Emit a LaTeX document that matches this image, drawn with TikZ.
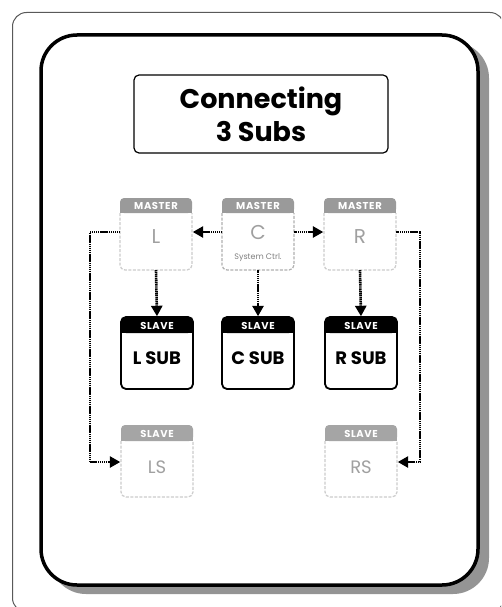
\documentclass[tikz,border=0pt]{standalone}
\usepackage{fontspec}
\setmainfont{Poppins}
\usetikzlibrary{arrows.meta}
\definecolor{hdrgray}{HTML}{9A9A9A}
\definecolor{slvgray}{HTML}{A5A5A5}
\definecolor{lightdash}{HTML}{CCCCCC}
\definecolor{middash}{HTML}{B0B0B0}
\definecolor{labgray}{HTML}{A0A0A0}
\tikzset{
  x=1pt, y=-1pt,
  conn/.style={line width=2.6pt, dash pattern=on 1.3pt off 0.6pt, black,
     -{Triangle[length=10.5pt,width=11pt]}, shorten >=0.5pt},
  boxarea/.style={draw=none, minimum width=72pt, minimum height=72pt, inner sep=0pt},
  hdrtext/.style={text=white, font=\bfseries\fontsize{10}{10}\selectfont\addfontfeature{LetterSpace=6}},
  mlabel/.style={text=labgray, font=\fontsize{20}{20}\selectfont},
  slabel/.style={text=black, font=\bfseries\fontsize{18}{18}\selectfont},
}
\begin{document}
\begin{tikzpicture}
\useasboundingbox (0,0) rectangle (501,607);
\begin{scope}
\clip (0,0) rectangle (501,607);
% outer frame
\draw[line width=1pt, draw=black!65, rounded corners=14pt] (12.5,12.5) rectangle (504,612);
\end{scope}
% inner frame with shadow
\fill[black!42, rounded corners=36pt] (50,42) rectangle (489,594);
\draw[line width=3.5pt, fill=white, rounded corners=36pt] (41,35) rectangle (478,585);
% title
\node[draw, line width=1.2pt, rounded corners=5pt, minimum width=254pt, minimum height=78pt,
      align=center, font=\bfseries\fontsize{27}{33}\selectfont, inner sep=0pt]
      (title) at (261,114) {Connecting\\3 Subs};

% ---------- master boxes ----------
\foreach \n/\cx/\bc in {L/156/lightdash, C/258/middash, R/360/lightdash}{
  \fill[hdrgray, rounded corners=4pt] (\cx-36,198) rectangle (\cx+36,213);
  \fill[hdrgray] (\cx-36,206) rectangle (\cx+36,213);
  \draw[\bc, line width=1.2pt, dash pattern=on 3pt off 1.5pt, rounded corners=5pt]
     (\cx-36,213) -- (\cx-36,270) -- (\cx+36,270) -- (\cx+36,213);
  \node[hdrtext] at (\cx,206) {MASTER};
}
\node[boxarea] (L) at (156,234) {};
\node[boxarea] (C) at (258,234) {};
\node[boxarea] (R) at (360,234) {};
\node[mlabel] (Ltext) at (156,237) {L};
\node[mlabel] (Ctext) at (258,232) {C};
\node[text=black!50, font=\fontsize{8}{8}\selectfont] (Csub) at (258,258) {System Ctrl.};
\node[mlabel] (Rtext) at (360,237) {R};

% ---------- black slave boxes ----------
\foreach \cx/\lab in {157/L SUB, 258/C SUB, 361/R SUB}{
  \fill[black, rounded corners=5pt] (\cx-36,317) rectangle (\cx+36,333);
  \fill[black] (\cx-36,325) rectangle (\cx+36,333);
  \draw[line width=1.8pt, rounded corners=5pt] (\cx-36,317) rectangle (\cx+36,389);
  \node[hdrtext] at (\cx,325.5) {SLAVE};
}
\node[boxarea, minimum height=72pt] (LSUB) at (157,353) {};
\node[boxarea, minimum height=72pt] (CSUB) at (258,353) {};
\node[boxarea, minimum height=72pt] (RSUB) at (361,353) {};
\node[slabel] (LSUBt) at (157,358) {L SUB};
\node[slabel] (CSUBt) at (258,358) {C SUB};
\node[slabel] (RSUBt) at (361,358) {R SUB};

% ---------- grey slave boxes ----------
\foreach \cx in {157, 361}{
  \fill[slvgray, rounded corners=4pt] (\cx-36,425) rectangle (\cx+36,441);
  \fill[slvgray] (\cx-36,433) rectangle (\cx+36,441);
  \draw[lightdash, line width=1.2pt, dash pattern=on 3pt off 1.5pt, rounded corners=5pt]
     (\cx-36,441) -- (\cx-36,497) -- (\cx+36,497) -- (\cx+36,441);
  \node[hdrtext] at (\cx,433.5) {SLAVE};
}
\node[boxarea] (LS) at (157,461) {};
\node[boxarea] (RS) at (361,461) {};
\node[mlabel, font=\fontsize{18}{18}\selectfont] (LSt) at (157,467) {LS};
\node[mlabel, font=\fontsize{18}{18}\selectfont] (RSt) at (361,467) {RS};

% ---------- connectors ----------
\coordinate (lcorner1) at (90,232);
\coordinate (lcorner2) at (90,462);
\coordinate (rcorner1) at (420,232);
\coordinate (rcorner2) at (420,462);
\draw[conn] (C.west |- 0,232) -- (L.east |- 0,232);
\draw[conn] (C.east |- 0,232) -- (R.west |- 0,232);
\draw[conn] (L.south) -- (LSUB.north);
\draw[conn] (C.south) -- (CSUB.north);
\draw[conn] (R.south) -- (RSUB.north);
\draw[conn] (L.west |- 0,232) -- (lcorner1) -- (lcorner2) -- (LS.west |- 0,462);
\draw[conn] (R.east |- 0,232) -- (rcorner1) -- (rcorner2) -- (RS.east |- 0,462);
\end{tikzpicture}
\end{document}
